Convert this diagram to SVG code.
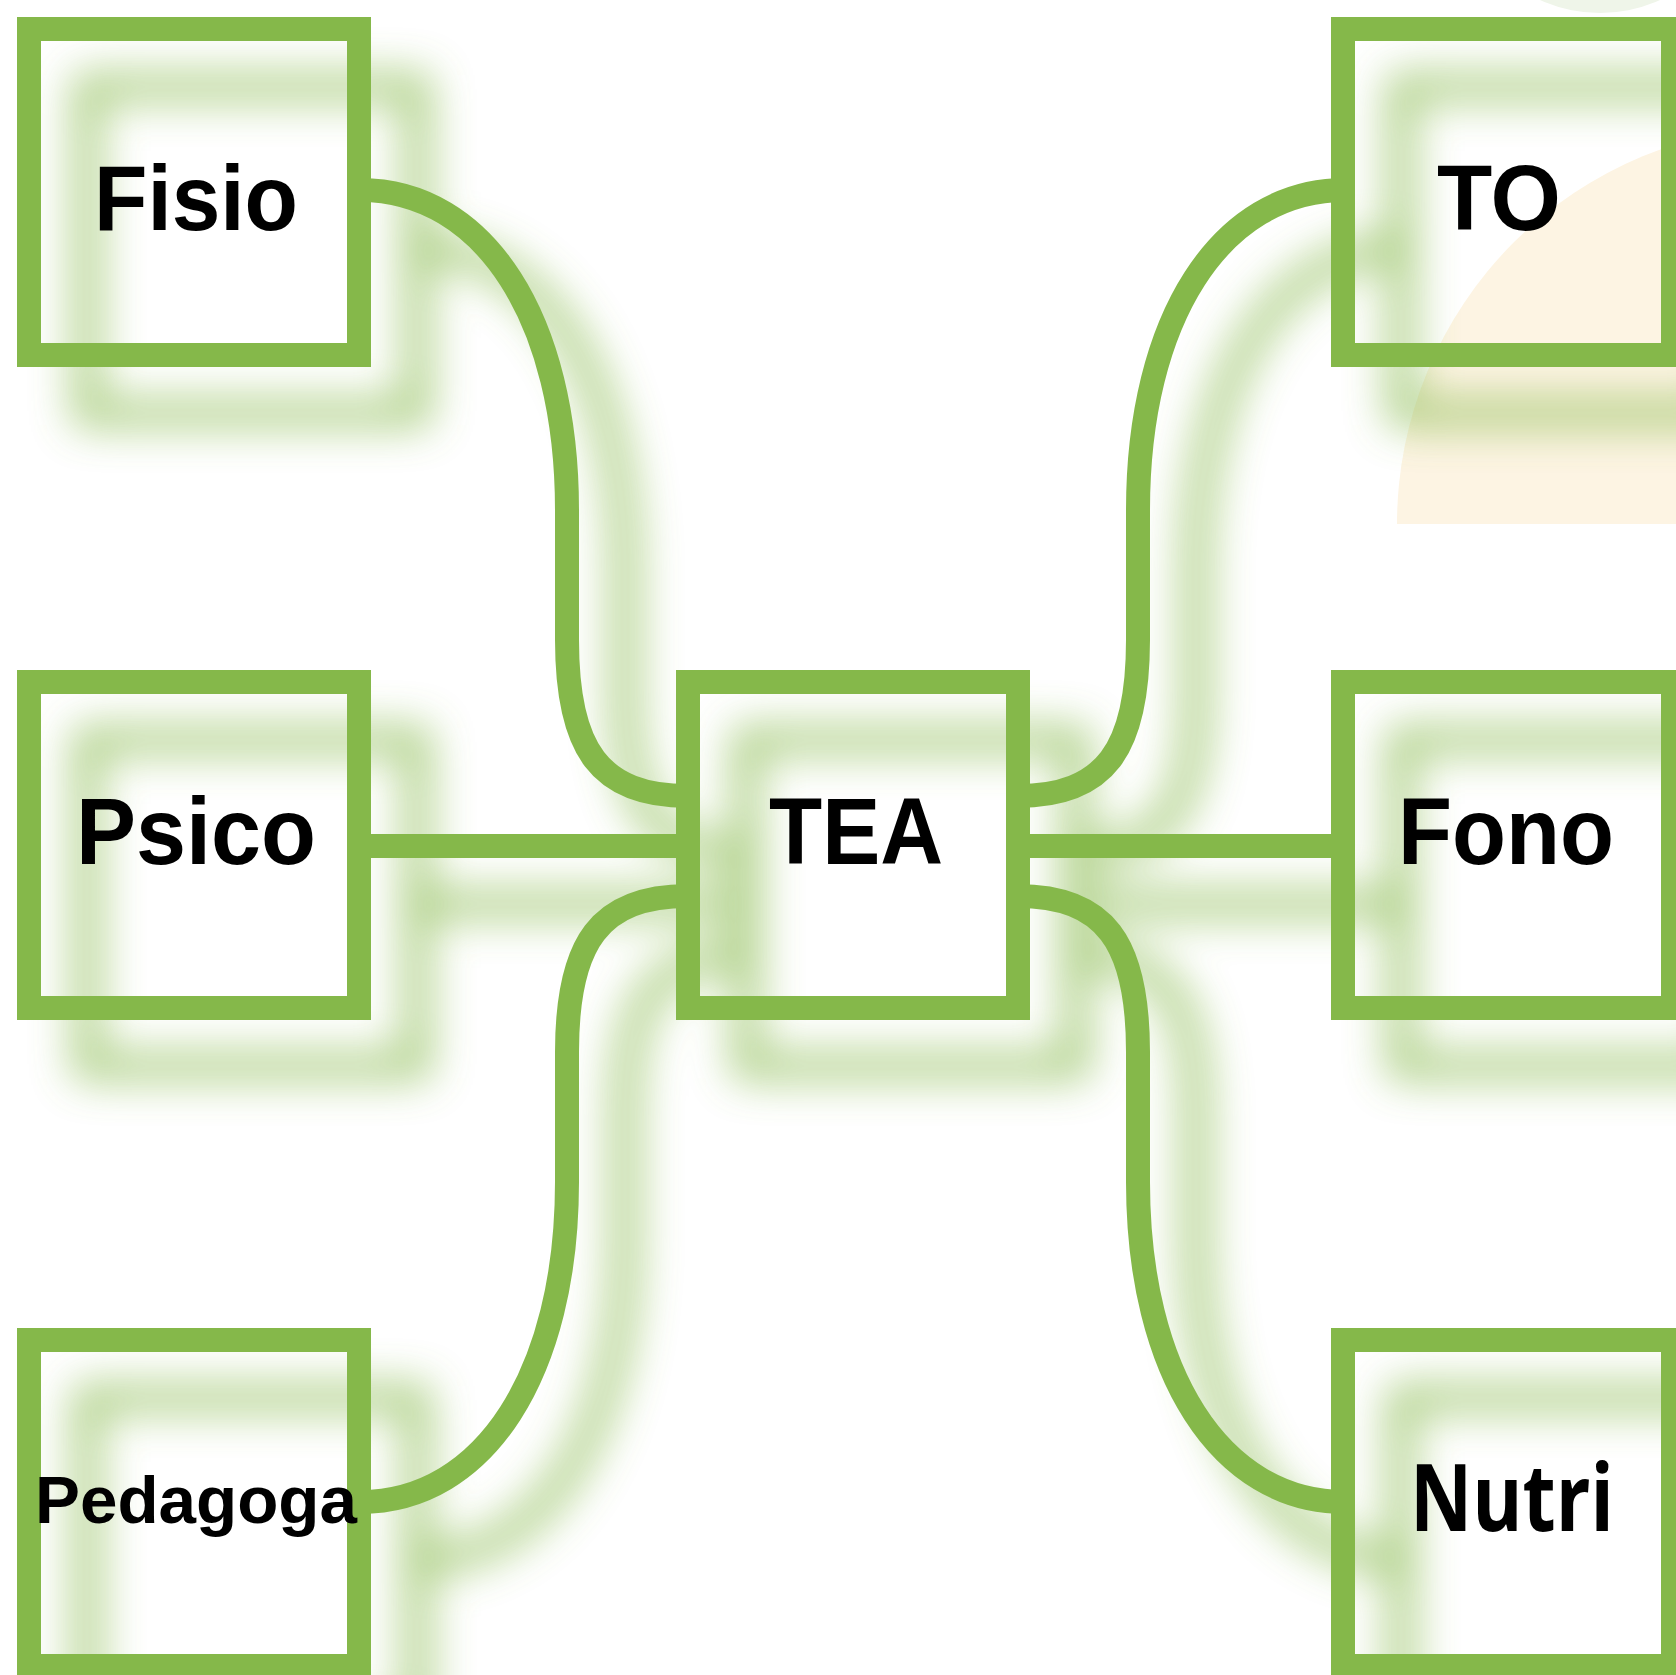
<svg xmlns="http://www.w3.org/2000/svg" xmlns:xlink="http://www.w3.org/1999/xlink" width="1676" height="1675" viewBox="0 0 1676 1675">
  <style>
    .box { fill: none; stroke: #85b84a; stroke-width: 24; }
    .conn { fill: none; stroke: #85b84a; stroke-width: 24; }
    .lbl { font-family: "Liberation Sans", Arial, sans-serif; font-weight: bold; fill: #000; text-anchor: middle; }
    .lbl2 { font-family: "Open Sans", "Noto Sans", sans-serif; font-weight: bold; fill: #000; text-anchor: middle; }
  </style>
  <defs>
    <filter id="blur" filterUnits="userSpaceOnUse" x="-200" y="-200" width="2200" height="2200">
      <feGaussianBlur stdDeviation="22"/>
    </filter>
    <clipPath id="halfclip">
      <rect x="0" y="0" width="1676" height="524"/>
    </clipPath>
    <g id="shapes">
      <rect class="box" x="29" y="29" width="330" height="326"/>
      <rect class="box" x="1343" y="29" width="330" height="326"/>
      <rect class="box" x="29" y="682" width="330" height="326"/>
      <rect class="box" x="688" y="682" width="330" height="326"/>
      <rect class="box" x="1343" y="682" width="330" height="326"/>
      <rect class="box" x="29" y="1340" width="330" height="326"/>
      <rect class="box" x="1343" y="1340" width="330" height="326"/>
      <path class="conn" d="M360,190 C485,190 567,320 567,510 L567,640 C567,750 600,796 688,796"/>
      <path class="conn" d="M1345,190 C1220,190 1138,320 1138,510 L1138,640 C1138,750 1105,796 1017,796"/>
      <path class="conn" d="M360,846 L688,846"/>
      <path class="conn" d="M1017,846 L1345,846"/>
      <path class="conn" d="M360,1502 C485,1502 567,1372 567,1182 L567,1052 C567,942 600,896 688,896"/>
      <path class="conn" d="M1345,1502 C1220,1502 1138,1372 1138,1182 L1138,1052 C1138,942 1105,896 1017,896"/>
    </g>
  </defs>
  <rect x="0" y="0" width="1676" height="1675" fill="#ffffff"/>
  <g id="background">
    <circle cx="1795" cy="524" r="398" fill="#fdf4e3" clip-path="url(#halfclip)"/>
    <circle cx="1600" cy="-132" r="145" fill="#eff5e9"/>
  </g>
  <g id="shadow" opacity="0.8" filter="url(#blur)">
    <use xlink:href="#shapes" transform="translate(58,58)"/>
  </g>
  <g id="connectors">
    <path class="conn" d="M360,190 C485,190 567,320 567,510 L567,640 C567,750 600,796 688,796"/>
    <path class="conn" d="M1345,190 C1220,190 1138,320 1138,510 L1138,640 C1138,750 1105,796 1017,796"/>
    <path class="conn" d="M360,846 L688,846"/>
    <path class="conn" d="M1017,846 L1345,846"/>
    <path class="conn" d="M360,1502 C485,1502 567,1372 567,1182 L567,1052 C567,942 600,896 688,896"/>
    <path class="conn" d="M1345,1502 C1220,1502 1138,1372 1138,1182 L1138,1052 C1138,942 1105,896 1017,896"/>
  </g>
  <g id="node-fisio">
    <rect class="box" x="29" y="29" width="330" height="326"/>
    <text class="lbl" x="196" y="230" font-size="92" textLength="204" lengthAdjust="spacingAndGlyphs">Fisio</text>
  </g>
  <g id="node-to">
    <rect class="box" x="1343" y="29" width="330" height="326"/>
    <text class="lbl" x="1499" y="230" font-size="92" textLength="124" lengthAdjust="spacingAndGlyphs">TO</text>
  </g>
  <g id="node-psico">
    <rect class="box" x="29" y="682" width="330" height="326"/>
    <text class="lbl" x="196" y="864" font-size="94" textLength="240" lengthAdjust="spacingAndGlyphs">Psico</text>
  </g>
  <g id="node-tea">
    <rect class="box" x="688" y="682" width="330" height="326"/>
    <text class="lbl" x="856" y="864" font-size="94" textLength="174" lengthAdjust="spacingAndGlyphs">TEA</text>
  </g>
  <g id="node-fono">
    <rect class="box" x="1343" y="682" width="330" height="326"/>
    <text class="lbl" x="1506" y="864" font-size="94" textLength="216" lengthAdjust="spacingAndGlyphs">Fono</text>
  </g>
  <g id="node-pedagoga">
    <rect class="box" x="29" y="1340" width="330" height="326"/>
    <text class="lbl" x="196" y="1523" font-size="67" textLength="322" lengthAdjust="spacingAndGlyphs">Pedagoga</text>
  </g>
  <g id="node-nutri">
    <rect class="box" x="1343" y="1340" width="330" height="326"/>
    <text class="lbl2" x="1512" y="1531" font-size="94" textLength="204" lengthAdjust="spacingAndGlyphs">Nutri</text>
  </g>
</svg>
